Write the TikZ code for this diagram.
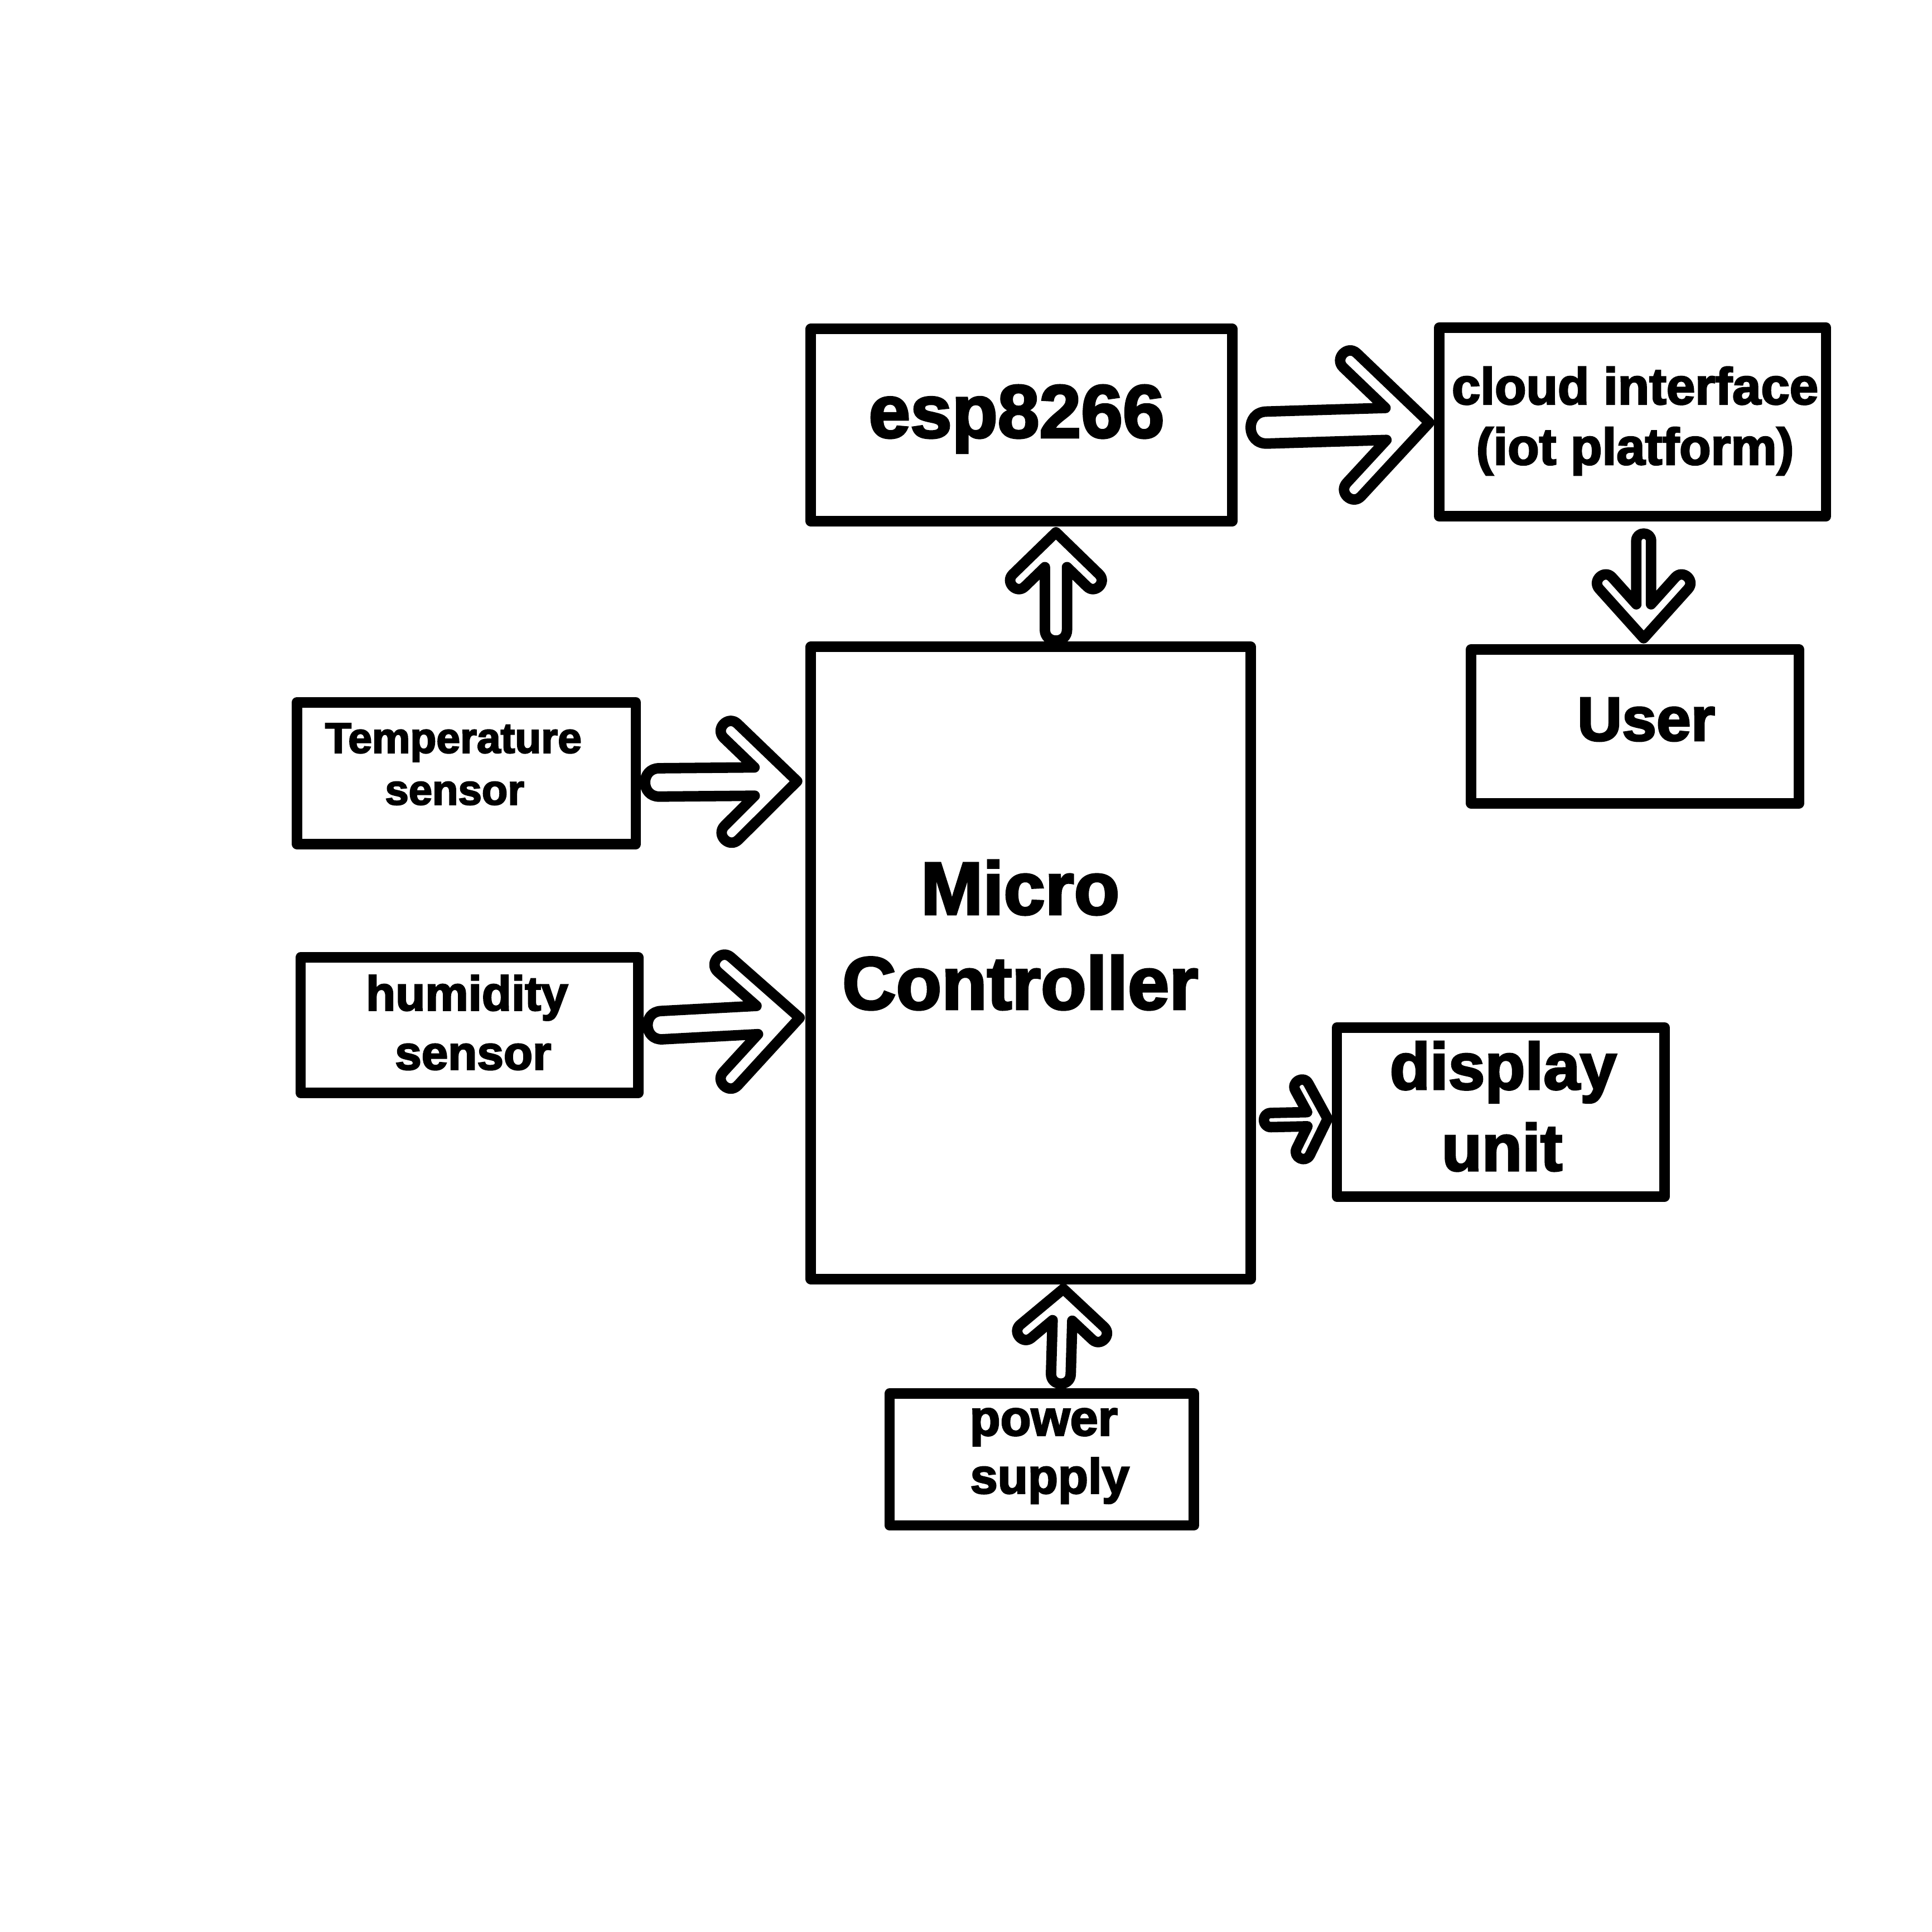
\documentclass[tikz,border=0pt]{standalone}
\usepackage{fontspec}
\setmainfont{Liberation Sans}[BoldFeatures={FakeBold=3}]
\usetikzlibrary{calc}
\tikzset{
  box/.style={draw, line width=0.85mm, line join=round, inner sep=0pt, fill=white},
  lbl/.style={inner sep=0pt, anchor=base},
  fatline/.style={draw, fill=white, line width=0.85mm, line join=round}
}
\newcommand\lblfont[1]{\bfseries\fontsize{#1}{#1}\selectfont}
% #1 tail, #2 tip, #3 shaft half width, #4 junction back, #5,#6 inner arm end (back, offset), #7,#8 outer arm end
\newcommand\fatarrow[8]{%
  \draw[fatline]
   ($(#1)!#3!-90:(#2)$)
   -- ($(#2)!#4!(#1)!#3!90:(#1)$)
   -- ($(#2)!#5!(#1)!#6!90:(#1)$)
   to[bend right=90, looseness=1.7] ($(#2)!#7!(#1)!#8!90:(#1)$)
   -- (#2)
   -- ($(#2)!#7!(#1)!#8!-90:(#1)$)
   to[bend right=90, looseness=1.7] ($(#2)!#5!(#1)!#6!-90:(#1)$)
   -- ($(#2)!#4!(#1)!#3!-90:(#1)$)
   -- ($(#1)!#3!90:(#2)$)
   to[bend right=90, looseness=1.7] ($(#1)!#3!-90:(#2)$)
   -- cycle;
}
\begin{document}
\begin{tikzpicture}[x=0.1mm,y=-0.1mm]
\useasboundingbox[fill=white] (0,0) rectangle (1568,1568);
% boxes
\node[box, minimum width=34.2mm, minimum height=15.6mm] (esp) at (829,345) {};
\node[box, minimum width=31.4mm, minimum height=15.3mm] (cloud) at (1325,342.5) {};
\node[box, minimum width=26.6mm, minimum height=12.5mm] (user) at (1327,589.5) {};
\node[box, minimum width=35.7mm, minimum height=51.3mm] (micro) at (836.5,781.5) {};
\node[box, minimum width=27.5mm, minimum height=11.5mm] (temp) at (378.5,627.5) {};
\node[box, minimum width=27.4mm, minimum height=11.0mm] (humid) at (381,832) {};
\node[box, minimum width=26.6mm, minimum height=13.7mm] (disp) at (1218,902.5) {};
\node[box, minimum width=24.7mm, minimum height=10.7mm] (power) at (845.5,1184.5) {};
% labels
\node[lbl, font=\lblfont{17.3}] (tesp) at (825,355) {esp8266};
\node[lbl, font=\lblfont{11.9}] (tcloud1) at (1327,328) {cloud interface};
\node[lbl, font=\lblfont{11.9}] (tcloud2) at (1327,377) {(iot platform)};
\node[lbl, font=\lblfont{14.3}] (tuser) at (1336,601) {User};
\node[lbl, font=\lblfont{17.2}] (tmicro1) at (828,742) {Micro};
\node[lbl, font=\lblfont{17.2}] (tmicro2) at (828,819) {Controller};
\node[lbl, font=\lblfont{9.9}] (ttemp1) at (368,611) {Temperature};
\node[lbl, font=\lblfont{9.8}] (ttemp2) at (369,653) {sensor};
\node[lbl, font=\lblfont{11.2}] (thum1) at (379,820) {humidity};
\node[lbl, font=\lblfont{11}] (thum2) at (384,868) {sensor};
\node[lbl, font=\lblfont{15.2}] (tdisp1) at (1220,884) {display};
\node[lbl, font=\lblfont{15.2}] (tdisp2) at (1219,950) {unit};
\node[lbl, font=\lblfont{11.6}] (tpow1) at (847,1165) {power};
\node[lbl, font=\lblfont{11.4}] (tpow2) at (852,1212) {supply};
% arrow end points
\coordinate (a1t) at (535,635);   \coordinate (a1h) at (647,634);
\coordinate (a2t) at (537,832);   \coordinate (a2h) at (649,826);
\coordinate (a3t) at (857,511);   \coordinate (a3h) at (857,432);
\coordinate (a4t) at (1334,439);  \coordinate (a4h) at (1334,518);
\coordinate (a5t) at (861,1115);  \coordinate (a5h) at (863,1046);
\coordinate (a6t) at (1031.5,909);\coordinate (a6h) at (1077.5,908);
\coordinate (a7t) at (1028,347);  \coordinate (a7h) at (1160,343);
% arrows
\fatarrow{a1t}{a1h}{1.15mm}{3.46mm}{5.92mm}{3.56mm}{4.8mm}{4.7mm}
\fatarrow{a2t}{a2h}{1.15mm}{3.45mm}{6.42mm}{4.06mm}{5.3mm}{5.2mm}
\fatarrow{a3t}{a3h}{0.9mm}{2.83mm}{4.4mm}{2.52mm}{3.4mm}{3.5mm}
\fatarrow{a4t}{a4h}{0.6mm}{2.76mm}{4.94mm}{2.56mm}{4.0mm}{3.6mm}
\fatarrow{a5t}{a5h}{0.8mm}{2.57mm}{4.05mm}{2.47mm}{3.0mm}{3.4mm}
\fatarrow{a6t}{a6h}{0.575mm}{1.65mm}{2.57mm}{2.35mm}{1.5mm}{2.9mm}
\fatarrow{a7t}{a7h}{1.3mm}{3.52mm}{6.84mm}{4.68mm}{5.7mm}{5.8mm}
\end{tikzpicture}
\end{document}
